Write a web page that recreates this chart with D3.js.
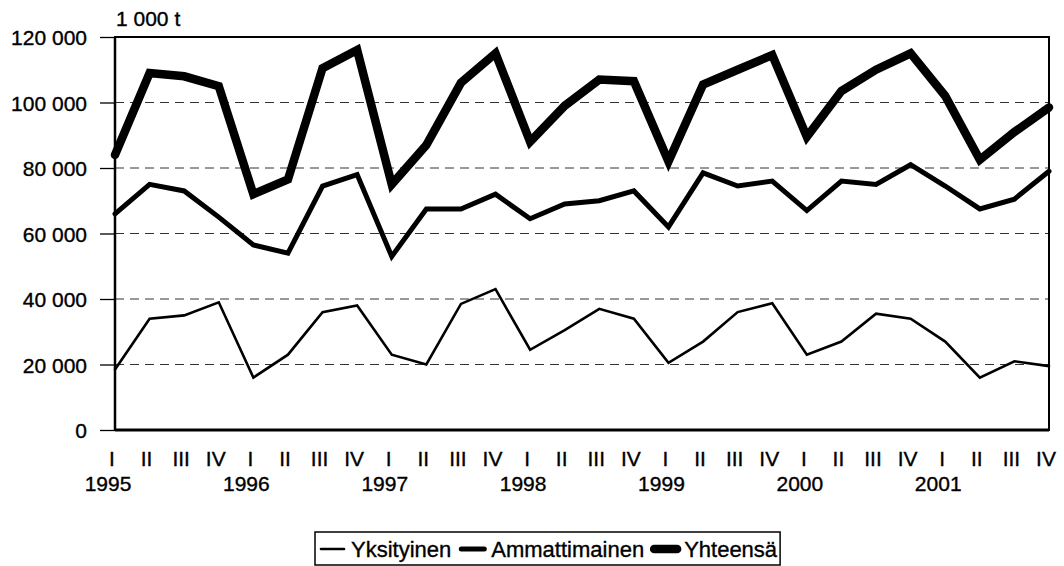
<!DOCTYPE html>
<html>
<head>
<meta charset="utf-8">
<script src="https://cdn.jsdelivr.net/npm/d3@7/dist/d3.min.js"></script>
<style>
  html, body { margin: 0; padding: 0; background: #fff; }
  svg text { font-family: "Liberation Sans", Arial, Helvetica, sans-serif; fill: #000; stroke: #000; stroke-width: 0.35px; }
</style>
</head>
<body>
<svg id="chart" width="1064" height="566"></svg>
<script>
const years = ["1995", "1996", "1997", "1998", "1999", "2000", "2001"];
const quarters = ["I", "II", "III", "IV"];
const yTicks = [0, 20000, 40000, 60000, 80000, 100000, 120000];
const unitLabel = "1 000 t";
const seriesNames = ["Yksityinen", "Ammattimainen", "Yhteensä"];
const yksityinen = [18500, 34000, 35000, 39000, 16000, 23000, 36000, 38000, 23000, 20000, 38500, 43000, 24500, 30500, 37000, 34000, 20500, 27000, 36000, 38700, 23000, 27000, 35500, 34000, 27000, 16000, 21000, 19500];
const ammattimainen = [66000, 75000, 73000, 65000, 56500, 54000, 74500, 78000, 53000, 67500, 67500, 72000, 64500, 69000, 70000, 73000, 62000, 78500, 74500, 76000, 67000, 76000, 75000, 81000, 74500, 67500, 70500, 79000];
const yhteensa = [84000, 109000, 108000, 105000, 72000, 76500, 110500, 116000, 75000, 87000, 106000, 115000, 88000, 99000, 107000, 106500, 82000, 105500, 110000, 114500, 89500, 103500, 110000, 115000, 102000, 82500, 91000, 98500];

const categories = [];
years.forEach(yr => quarters.forEach(q => categories.push({ key: yr + "-" + q, year: yr, q: q })));

const series = [
  { name: seriesNames[0], values: yksityinen, width: 2.6 },
  { name: seriesNames[1], values: ammattimainen, width: 5 },
  { name: seriesNames[2], values: yhteensa, width: 8.5 }
];

const FS = 21;
const LFS = 22;
const svg = d3.select("#chart");
const pL = 115, pR = 1049, pT = 37, pB = 430;

const x = d3.scalePoint().domain(categories.map(d => d.key)).range([pL, pR]);
const y = d3.scaleLinear().domain([0, 120000]).range([pB, pT]);

function stext(g, txt, tx, ty, anchor, size) {
  return g.append("text")
    .attr("x", tx).attr("y", ty)
    .attr("text-anchor", anchor)
    .attr("font-size", size || FS)
    .text(txt);
}

// gridlines
svg.append("g").selectAll("line")
  .data(yTicks.filter(v => v > 0 && v < 120000))
  .join("line")
  .attr("x1", pL).attr("x2", pR)
  .attr("y1", d => y(d)).attr("y2", d => y(d))
  .attr("stroke", "#333").attr("stroke-width", 1)
  .attr("stroke-dasharray", "9,6");

// y axis
const yAxis = d3.axisLeft(y).tickValues(yTicks).tickSize(15).tickPadding(13)
  .tickFormat(d => d3.format(",")(d).replace(/,/g, " "));
const ya = svg.append("g").attr("transform", `translate(${pL},0)`).call(yAxis);
ya.select(".domain").remove();
ya.selectAll(".tick line").attr("stroke", "#000").attr("stroke-width", 1.3);
ya.selectAll(".tick text")
  .attr("dy", "0.36em")
  .attr("font-size", FS).attr("font-family", "Liberation Sans, Arial, sans-serif")
  .attr("fill", "#000");

// frame
svg.append("rect").attr("x", pL).attr("y", pT)
  .attr("width", pR - pL).attr("height", pB - pT)
  .attr("fill", "none").attr("stroke", "#000").attr("stroke-width", 2);
svg.append("line").attr("x1", pL).attr("x2", pL).attr("y1", pT).attr("y2", pB)
  .attr("stroke", "#000").attr("stroke-width", 2.5);
svg.append("line").attr("x1", pL).attr("x2", pR).attr("y1", pB).attr("y2", pB)
  .attr("stroke", "#000").attr("stroke-width", 2.8);

// unit label
stext(svg, unitLabel, 116, 26, "start");

// x labels
const xl = svg.append("g");
categories.forEach(c => {
  stext(xl, c.q, x(c.key) - 3, 466, "middle");
});
years.forEach(yr => {
  stext(xl, yr, x(yr + "-I") - 7, 491, "middle");
});

// lines
const line = d3.line().x((d, i) => x(categories[i].key)).y(d => y(d));
series.forEach(s => {
  svg.append("path").datum(s.values)
    .attr("d", line)
    .attr("fill", "none").attr("stroke", "#000")
    .attr("stroke-width", s.width)
    .attr("stroke-linejoin", "miter").attr("stroke-miterlimit", 3)
    .attr("stroke-linecap", "round");
});

// legend
const lg = svg.append("g");
const lgX = 315;
const lgBox = lg.append("rect").attr("x", lgX).attr("y", 532).attr("width", 465).attr("height", 33)
  .attr("fill", "#fff").attr("stroke", "#000").attr("stroke-width", 1.5);
let cx = 321;
const ly = 549;
series.forEach(s => {
  lg.append("line").attr("x1", cx).attr("x2", cx + 23).attr("y1", ly).attr("y2", ly)
    .attr("stroke", "#000").attr("stroke-width", s.width).attr("stroke-linecap", "round");
  cx += 30;
  const t = stext(lg, s.name, cx, ly + 8, "start", LFS);
  cx += t.node().getComputedTextLength() + 10;
});
lgBox.attr("width", cx - 7 - lgX);
</script>
</body>
</html>
